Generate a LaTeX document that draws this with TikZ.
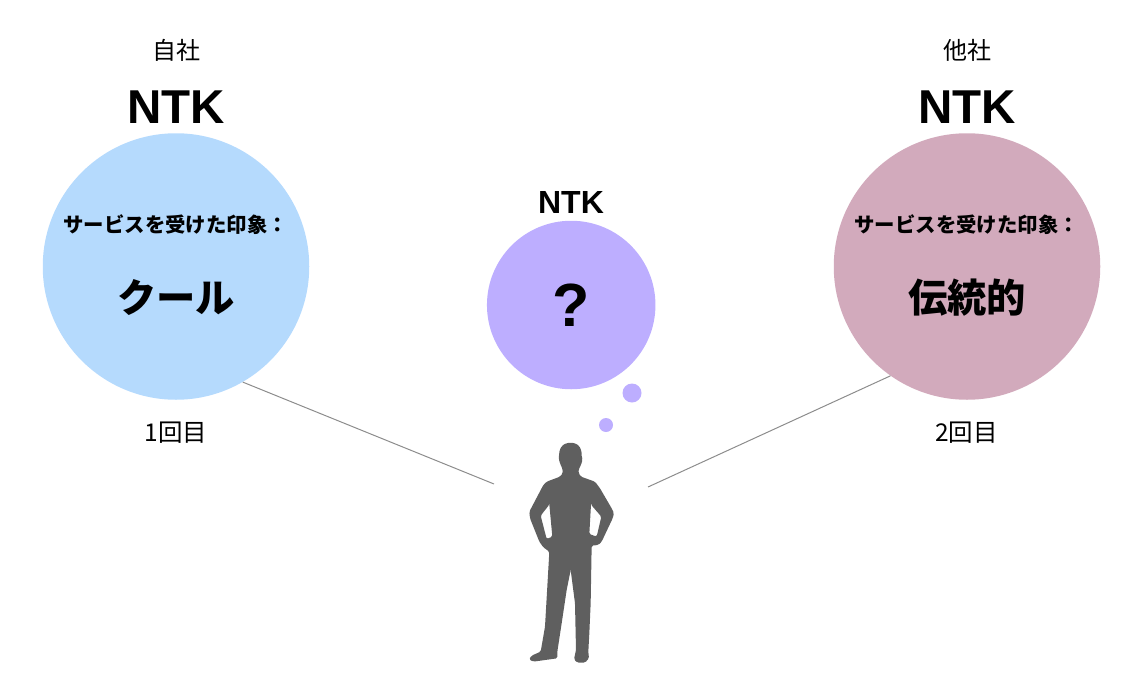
\documentclass[tikz,border=0pt]{standalone}
\usepackage{fontspec}
\setmainfont{Liberation Sans}
\newfontfamily\cjk{Noto Sans CJK JP}
\definecolor{selfblue}{HTML}{B5DAFD}
\definecolor{otherpink}{HTML}{D2AABC}
\definecolor{thinkpurple}{HTML}{BDAEFF}
\definecolor{persongray}{HTML}{5F5F5F}
\tikzset{
  bigdisc/.style={circle,inner sep=0pt,minimum size=266.5pt,fill=#1},
  thinkdisc/.style={circle,inner sep=0pt,fill=thinkpurple},
  sightline/.style={draw=black!45,line width=1pt},
  plainlabel/.style={inner sep=0pt,font=\fontsize{24}{24}\selectfont\cjk},
  visitlabel/.style={inner sep=0pt,font=\fontsize{24.5}{24.5}\selectfont\cjk},
  biglabel/.style={inner sep=0pt,font=\fontsize{47.5}{48}\selectfont\bfseries},
  asklabel/.style={inner sep=0pt,font=\fontsize{20.4}{20.4}\selectfont\cjk\bfseries},
  answerlabel/.style={inner sep=0pt,font=\fontsize{39.3}{39.3}\selectfont\cjk\bfseries}
}
\begin{document}
\begin{tikzpicture}[x=1pt,y=-1pt]
  \useasboundingbox (0,0) rectangle (1140,696);
  \node [bigdisc=selfblue] (selfdisc) at (176,266.5) {};
  \node [bigdisc=otherpink] (otherdisc) at (967,266.5) {};
  \node [thinkdisc,minimum size=168.5pt] (thinkdisc) at (571.2,305) {};
  \node [thinkdisc,minimum size=19pt] (bubbleA) at (632,393) {};
  \node [thinkdisc,minimum size=14pt] (bubbleB) at (606,425) {};
  \node [plainlabel] (selfname) at (176,50) {自社};
  \node [plainlabel] (othername) at (967,50) {他社};
  \node [biglabel] (selfntk) at (176.3,107) {NTK};
  \node [biglabel] (otherntk) at (967.3,107) {NTK};
  \node [inner sep=0pt,font=\fontsize{32}{32}\selectfont\bfseries] (thinkntk) at (571,202) {NTK};
  \node [asklabel] (selfask) at (175.7,224.5) {サービスを受けた印象：};
  \node [asklabel] (otherask) at (966.7,224.5) {サービスを受けた印象：};
  \node [answerlabel] (selfanswer) at (176,297.5) {クール};
  \node [answerlabel] (otheranswer) at (967,297.5) {伝統的};
  \node [inner sep=0pt,font=\fontsize{61}{61}\selectfont\bfseries] (thinkmark) at (571,305) {?};
  \node [visitlabel] (firstvisit) at (176,433) {1回目};
  \node [visitlabel] (secondvisit) at (966.5,433) {2回目};
  \coordinate (viewerleft) at (494,484);
  \coordinate (viewerright) at (648,487);
  \draw [sightline] (selfdisc.-60) to (viewerleft);
  \draw [sightline] (otherdisc.235) to (viewerright);
  % person
  \begin{scope}[shift={(500,370)},x=0.3333pt,y=-0.3333pt]
    \fill [persongray,even odd rule,rounded corners=1.5pt]
      (212,600) to (200,660) to (185,760) to (172,845)
      to (172,865) to (100,875) to (87,868) to (95,857) to (122,845) to (135,770)
      to (148,545) to (130,532) to (118,515) to (90,445) to (88,425) to (130,345)
      to (140,335) to (180,320) to (188,310) to (188,298) to (180,280) to (176,265)
      to (179,240) to (186,227) to (200,219) to (224,219) to (238,228) to (245,245)
      to (245,262) to (248,268) to (243,285)
      to (236,298) to (236,310) to (243,320) to (285,335) to (300,355) to (335,415)
      to (342,430) to (338,445) to (305,515) to (295,525) to (275,527) to (272,700)
      to (268,790) to (265,845) to (267,865) to (255,878) to (232,878) to (222,868)
      to (228,840) to (225,700) to cycle
      (148,404) to (122,437) to (140,507) to (157,500) to cycle
      (273,404) to (304,440) to (290,500) to (268,492) to cycle;
  \end{scope}
\end{tikzpicture}
\end{document}
